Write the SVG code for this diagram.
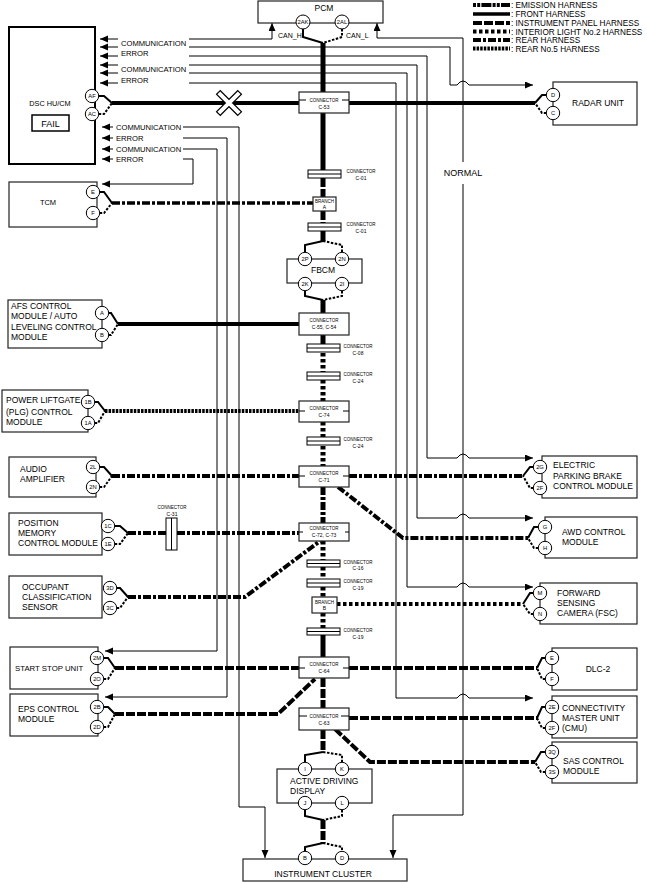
<svg xmlns="http://www.w3.org/2000/svg" width="647" height="883" viewBox="0 0 647 883">
<style>
text{font-family:"Liberation Sans",Arial,sans-serif;fill:#000}
.box{fill:#fff;stroke:#222;stroke-width:1.2}
.cir{fill:#fff;stroke:#000;stroke-width:1}
.cl{font-size:5.8px;text-anchor:middle}
.lb{font-size:8.5px}
.lg{font-size:8.2px}
.lbc{font-size:8.5px;text-anchor:middle}
.sig{font-size:7.6px}
.ct{font-size:4.5px;text-anchor:middle}
.ct2{font-size:5px;text-anchor:middle}
.w{fill:none;stroke:#000;stroke-width:1}
.h{fill:none;stroke:#000;stroke-width:4;stroke-linecap:butt}
.sp{fill:none;stroke:#000;stroke-width:5;stroke-linecap:butt}
.ip{stroke-dasharray:9,2}
.il{stroke-dasharray:3.5,2.5}
.rr{stroke-dasharray:8,2,3,2}
.r5{stroke-dasharray:2.5,1.1}
.em{stroke-dasharray:3,1.2,3,1.2,10,1.2}
.st{fill:none;stroke:#000;stroke-width:2}
.sd{fill:none;stroke:#000;stroke-width:2;stroke-dasharray:2.5,1.5}
.cn{fill:#fff;stroke:#000;stroke-width:1}
</style>
<defs>
<marker id="ar" markerUnits="userSpaceOnUse" markerWidth="9" markerHeight="8" refX="8" refY="3.5" orient="auto-start-reverse">
<path d="M0,0 L8,3.5 L0,7 z" fill="#000"/>
</marker>
</defs>

<g id="legend">
<path class="h em" d="M473,5 H510"/>
<path class="h" d="M473,14 H510" style="stroke-width:3.5"/>
<path class="h ip" d="M473,23 H510"/>
<path class="h il" d="M473,31.5 H510"/>
<path class="h rr" d="M473,40 H510"/>
<path class="h r5" d="M473,48.5 H510"/>
<text class="lg" x="511" y="8">: EMISSION HARNESS</text>
<text class="lg" x="511" y="17">: FRONT HARNESS</text>
<text class="lg" x="511" y="26">: INSTRUMENT PANEL HARNESS</text>
<text class="lg" x="511" y="34.5">: INTERIOR LIGHT No.2 HARNESS</text>
<text class="lg" x="511" y="43">: REAR HARNESS</text>
<text class="lg" x="511" y="51.5">: REAR No.5 HARNESS</text>
</g>

<g id="connectors">
<path class="w" marker-start="url(#ar)" marker-end="url(#ar)" d="M100,39 H272 V23"/>
<path class="w" marker-start="url(#ar)" marker-end="url(#ar)" d="M100,47 H450 V85 H457 Q463,77 469,85 H533"/>
<path class="w" marker-start="url(#ar)" marker-end="url(#ar)" d="M100,56 H427 V458 H457 Q463,450 469,458 H533"/>
<path class="w" marker-start="url(#ar)" marker-end="url(#ar)" d="M100,65 H417 V518 H457 Q463,510 469,518 H533"/>
<path class="w" marker-start="url(#ar)" marker-end="url(#ar)" d="M100,73 H407 V587 H457 Q463,579 469,587 H533"/>
<path class="w" marker-start="url(#ar)" marker-end="url(#ar)" d="M100,83 H396 V698 H457 Q463,690 469,698 H533"/>
<path class="w" marker-start="url(#ar)" d="M377,23 V38 H463 V162"/>
<path class="w" marker-end="url(#ar)" d="M463,184 V815 H393 V858"/>
<path class="w" marker-start="url(#ar)" marker-end="url(#ar)" d="M102,127 H239 V807 H265 V858"/>
<path class="w" marker-start="url(#ar)" marker-end="url(#ar)" d="M102,138 H227 V697 H105"/>
<path class="w" marker-start="url(#ar)" marker-end="url(#ar)" d="M102,149 H217 V651 H105"/>
<path class="w" marker-start="url(#ar)" marker-end="url(#ar)" d="M102,159 H193 V184 H102"/>

<path class="sp" d="M323,43 V170"/>
<path class="sp ip" d="M323,178 V197"/>
<path class="sp ip" d="M323,211 V223"/>
<path class="sp" d="M323,231 V241"/>
<path class="sp" d="M323,300 V313"/>
<path class="sp" d="M323,335 V344"/>
<path class="sp il" d="M323,353 V372"/>
<path class="sp il" d="M323,380 V401"/>
<path class="sp il" d="M323,422 V437"/>
<path class="sp il" d="M323,446 V466"/>
<path class="sp rr" d="M323,487 V523"/>
<path class="sp il" d="M323,541 V560"/>
<path class="sp il" d="M323,567 V579"/>
<path class="sp il" d="M323,587 V597"/>
<path class="sp il" d="M323,613 V628"/>
<path class="sp" d="M323,635 V657"/>
<path class="sp ip" d="M323,678 V708"/>
<path class="sp ip" d="M323,730 V752"/>
<path class="sp ip" d="M323,820 V843"/>

<path class="st" d="M303,29 V37 L323,43"/>
<path class="sd" d="M342,29 V37 L323,43"/>
<path class="st" d="M323,241 L305,245 V252"/>
<path class="sd" d="M323,241 L342,245 V252"/>
<path class="st" d="M305,291 V296 L323,300"/>
<path class="sd" d="M342,291 V296 L323,300"/>
<path class="st" d="M323,752 L305,755 V762"/>
<path class="sd" d="M323,752 L342,755 V762"/>
<path class="st" d="M305,810 V816 L323,820"/>
<path class="sd" d="M342,810 V816 L323,820"/>
<path class="st" d="M323,843 L305,847 V851"/>
<path class="sd" d="M323,843 L342,847 V851"/>

<path class="h" d="M112,103 H299"/>
<path class="h" d="M349,103 H535"/>
<path class="h rr" d="M112,203 H313" style="stroke-width:3.5"/>
<path class="h" d="M118,324 H299"/>
<path class="h r5" d="M105,411 H299"/>
<path class="h rr" d="M112,476 H299"/>
<path class="h rr" d="M349,476 H523"/>
<path class="h rr" d="M338,487 L403,538 H528"/>
<path class="h rr" d="M128,533 H166"/>
<path class="h rr" d="M177,533 H299"/>
<path class="h rr" d="M128,597 H245 L320,541"/>
<path class="h il" d="M337,604 H523"/>
<path class="h ip" d="M115,668 H299"/>
<path class="h ip" d="M349,668 H537"/>
<path class="h ip" d="M115,714 H278 L315,679"/>
<path class="h ip" d="M349,718 H537"/>
<path class="h ip" d="M335,729 L370,762 H535"/>

<path class="st" d="M98.7,96 H104 L112,103"/><path class="sd" d="M98.7,114 H104 L112,103"/>
<path class="st" d="M99.7,192 H104 L112,203"/><path class="sd" d="M99.7,213 H104 L112,203"/>
<path class="st" d="M108.7,313 H111 L118,324"/><path class="sd" d="M108.7,335 H111 L118,324"/>
<path class="st" d="M94.7,402 H98 L105,411"/><path class="sd" d="M94.7,423 H98 L105,411"/>
<path class="st" d="M99.7,467 H104 L112,476"/><path class="sd" d="M99.7,487 H104 L112,476"/>
<path class="st" d="M114.7,526 H120 L128,533"/><path class="sd" d="M114.7,544 H120 L128,533"/>
<path class="st" d="M116.7,588 H120 L128,597"/><path class="sd" d="M116.7,608 H120 L128,597"/>
<path class="st" d="M103.7,658 H108 L115,668"/><path class="sd" d="M103.7,679 H108 L115,668"/>
<path class="st" d="M103.7,707 H108 L115,714"/><path class="sd" d="M103.7,727 H108 L115,714"/>
<path class="st" d="M546.3,95 H542 L535,103"/><path class="sd" d="M546.3,113 H542 L535,103"/>
<path class="st" d="M533.3,467 H530 L523,476"/><path class="sd" d="M533.3,488 H530 L523,476"/>
<path class="st" d="M538.3,527 H534 L528,538"/><path class="sd" d="M538.3,548 H534 L528,538"/>
<path class="st" d="M533.3,593 H530 L523,604"/><path class="sd" d="M533.3,614 H530 L523,604"/>
<path class="st" d="M545.3,658 H542 L537,668"/><path class="sd" d="M545.3,679 H542 L537,668"/>
<path class="st" d="M545.3,707 H542 L537,718"/><path class="sd" d="M545.3,728 H542 L537,718"/>
<path class="st" d="M545.3,752 H541 L535,762"/><path class="sd" d="M545.3,772 H541 L535,762"/>

<g id="xmark">
<path d="M218,92 L240,114 M218,114 L240,92" stroke="#000" stroke-width="6.5" fill="none"/>
<path d="M218.8,92.8 L239.2,113.2 M218.8,113.2 L239.2,92.8" stroke="#fff" stroke-width="4" fill="none"/>
</g>
</g>

<g id="signal-labels">
<rect x="118" y="35" width="71" height="52" fill="#fff"/>
<rect x="113" y="122" width="70" height="42" fill="#fff"/>
<text class="sig" x="121" y="45.5">COMMUNICATION</text>
<text class="sig" x="121" y="55.5">ERROR</text>
<text class="sig" x="121" y="72">COMMUNICATION</text>
<text class="sig" x="121" y="83">ERROR</text>
<text class="sig" x="116" y="130">COMMUNICATION</text>
<text class="sig" x="116" y="140.5">ERROR</text>
<text class="sig" x="116" y="151.5">COMMUNICATION</text>
<text class="sig" x="116" y="162">ERROR</text>
<text style="font-size:7px" x="278" y="37.5">CAN_H</text>
<text style="font-size:7px" x="346" y="37.5">CAN_L</text>
<rect x="440" y="163" width="46" height="20" fill="#fff"/>
<text style="font-size:9px;text-anchor:middle" x="463" y="176">NORMAL</text>
</g>

<g id="pcm">
<rect class="box" x="258" y="1" width="125" height="22"/>
<text class="lbc" x="324" y="10.5">PCM</text>
<circle class="cir" cx="303" cy="22" r="7"/><text class="cl" x="303" y="24">2AK</text>
<circle class="cir" cx="342" cy="22" r="7"/><text class="cl" x="342" y="24">2AL</text>
</g>

<g id="dsc">
<rect x="9" y="27" width="86" height="137" fill="#fff" stroke="#000" stroke-width="2"/>
<text class="lbc" style="font-size:7.3px" x="50" y="105.5">DSC HU/CM</text>
<rect x="32" y="115" width="37" height="16" fill="#fff" stroke="#000" stroke-width="1.5"/>
<text style="font-size:9px;text-anchor:middle" x="50.5" y="126.5">FAIL</text>
<circle class="cir" cx="92" cy="96" r="6.7"/><text class="cl" x="92" y="98">AF</text>
<circle class="cir" cx="92" cy="114" r="6.7"/><text class="cl" x="92" y="116">AC</text>
</g>

<g id="tcm">
<rect class="box" x="9" y="182" width="88" height="45"/>
<text class="lbc" style="font-size:7.5px" x="48" y="205">TCM</text>
<circle class="cir" cx="93" cy="192" r="6.7"/><text class="cl" x="93" y="194">E</text>
<circle class="cir" cx="93" cy="213" r="6.7"/><text class="cl" x="93" y="215">F</text>
</g>

<g id="afs">
<rect class="box" x="8" y="300" width="94" height="48"/>
<text class="lb" x="11" y="309">AFS CONTROL</text>
<text class="lb" x="11" y="319">MODULE / AUTO</text>
<text class="lb" x="11" y="329.5">LEVELING CONTROL</text>
<text class="lb" x="11" y="340">MODULE</text>
<circle class="cir" cx="102" cy="313" r="6.7"/><text class="cl" x="102" y="315">A</text>
<circle class="cir" cx="102" cy="335" r="6.7"/><text class="cl" x="102" y="337">B</text>
</g>

<g id="plg">
<rect class="box" x="2" y="390" width="86" height="42"/>
<text class="lb" x="6" y="403">POWER LIFTGATE</text>
<text class="lb" x="6" y="414.5">(PLG) CONTROL</text>
<text class="lb" x="6" y="424.5">MODULE</text>
<circle class="cir" cx="88" cy="402" r="6.7"/><text class="cl" x="88" y="404">1B</text>
<circle class="cir" cx="88" cy="423" r="6.7"/><text class="cl" x="88" y="425">1A</text>
</g>

<g id="audio">
<rect class="box" x="9" y="457" width="87" height="40"/>
<text class="lb" x="20" y="472">AUDIO</text>
<text class="lb" x="20" y="482">AMPLIFIER</text>
<circle class="cir" cx="93" cy="467" r="6.7"/><text class="cl" x="93" y="469">2L</text>
<circle class="cir" cx="93" cy="487" r="6.7"/><text class="cl" x="93" y="489">2N</text>
</g>

<g id="posmem">
<rect class="box" x="9" y="513" width="93" height="42"/>
<text class="lb" x="18" y="526">POSITION</text>
<text class="lb" x="18" y="536">MEMORY</text>
<text class="lb" x="18" y="546">CONTROL MODULE</text>
<circle class="cir" cx="108" cy="526" r="6.7"/><text class="cl" x="108" y="528">1C</text>
<circle class="cir" cx="108" cy="544" r="6.7"/><text class="cl" x="108" y="546">1E</text>
</g>

<g id="occupant">
<rect class="box" x="9" y="576" width="93" height="42"/>
<text class="lb" x="22" y="590">OCCUPANT</text>
<text class="lb" x="22" y="600">CLASSIFICATION</text>
<text class="lb" x="22" y="610">SENSOR</text>
<circle class="cir" cx="110" cy="588" r="6.7"/><text class="cl" x="110" y="590">3D</text>
<circle class="cir" cx="110" cy="608" r="6.7"/><text class="cl" x="110" y="610">3C</text>
</g>

<g id="startstop">
<rect class="box" x="10" y="647" width="88" height="42"/>
<text class="lb" style="font-size:7.8px" x="15" y="671">START STOP UNIT</text>
<circle class="cir" cx="97" cy="658" r="6.7"/><text class="cl" x="97" y="660">2M</text>
<circle class="cir" cx="97" cy="679" r="6.7"/><text class="cl" x="97" y="681">2O</text>
</g>

<g id="eps">
<rect class="box" x="10" y="694" width="88" height="42"/>
<text class="lb" x="18" y="712">EPS CONTROL</text>
<text class="lb" x="18" y="722">MODULE</text>
<circle class="cir" cx="97" cy="707" r="6.7"/><text class="cl" x="97" y="709">2B</text>
<circle class="cir" cx="97" cy="727" r="6.7"/><text class="cl" x="97" y="729">2D</text>
</g>

<g id="radar">
<rect class="box" x="553" y="82" width="84" height="43"/>
<text class="lbc" x="598" y="106">RADAR UNIT</text>
<circle class="cir" cx="553" cy="95" r="6.7"/><text class="cl" x="553" y="97">D</text>
<circle class="cir" cx="553" cy="113" r="6.7"/><text class="cl" x="553" y="115">C</text>
</g>

<g id="epb">
<rect class="box" x="542" y="456" width="95" height="42"/>
<text class="lb" x="553" y="468">ELECTRIC</text>
<text class="lb" x="553" y="478.5">PARKING BRAKE</text>
<text class="lb" x="553" y="488.5">CONTROL MODULE</text>
<circle class="cir" cx="540" cy="467" r="6.7"/><text class="cl" x="540" y="469">2G</text>
<circle class="cir" cx="540" cy="488" r="6.7"/><text class="cl" x="540" y="490">2F</text>
</g>

<g id="awd">
<rect class="box" x="545" y="517" width="92" height="41"/>
<text class="lb" x="562" y="535">AWD CONTROL</text>
<text class="lb" x="562" y="545">MODULE</text>
<circle class="cir" cx="545" cy="527" r="6.7"/><text class="cl" x="545" y="529">G</text>
<circle class="cir" cx="545" cy="548" r="6.7"/><text class="cl" x="545" y="550">H</text>
</g>

<g id="fsc">
<rect class="box" x="540" y="583" width="97" height="41"/>
<text class="lb" x="557" y="596">FORWARD</text>
<text class="lb" x="557" y="606">SENSING</text>
<text class="lb" x="557" y="616">CAMERA (FSC)</text>
<circle class="cir" cx="540" cy="593" r="6.7"/><text class="cl" x="540" y="595">M</text>
<circle class="cir" cx="540" cy="614" r="6.7"/><text class="cl" x="540" y="616">N</text>
</g>

<g id="dlc">
<rect class="box" x="552" y="648" width="85" height="42"/>
<text class="lbc" x="598" y="672">DLC-2</text>
<circle class="cir" cx="552" cy="658" r="6.7"/><text class="cl" x="552" y="660">E</text>
<circle class="cir" cx="552" cy="679" r="6.7"/><text class="cl" x="552" y="681">F</text>
</g>

<g id="cmu">
<rect class="box" x="552" y="696" width="85" height="42"/>
<text class="lb" x="562" y="711">CONNECTIVITY</text>
<text class="lb" x="562" y="721">MASTER UNIT</text>
<text class="lb" x="562" y="731">(CMU)</text>
<circle class="cir" cx="552" cy="707" r="6.7"/><text class="cl" x="552" y="709">2E</text>
<circle class="cir" cx="552" cy="728" r="6.7"/><text class="cl" x="552" y="730">2F</text>
</g>

<g id="sas">
<rect class="box" x="552" y="742" width="85" height="41"/>
<text class="lb" x="563" y="764">SAS CONTROL</text>
<text class="lb" x="563" y="774">MODULE</text>
<circle class="cir" cx="552" cy="752" r="6.7"/><text class="cl" x="552" y="754">3Q</text>
<circle class="cir" cx="552" cy="772" r="6.7"/><text class="cl" x="552" y="774">3S</text>
</g>

<g id="fbcm">
<rect class="box" x="287" y="259" width="75" height="24"/>
<text class="lbc" x="323" y="272.5">FBCM</text>
<circle class="cir" cx="305" cy="259" r="6.7"/><text class="cl" x="305" y="261">2P</text>
<circle class="cir" cx="342" cy="259" r="6.7"/><text class="cl" x="342" y="261">2N</text>
<circle class="cir" cx="305" cy="284" r="6.7"/><text class="cl" x="305" y="286">2K</text>
<circle class="cir" cx="342" cy="284" r="6.7"/><text class="cl" x="342" y="286">2I</text>
</g>

<g id="add">
<rect class="box" x="277" y="769" width="95" height="34"/>
<text class="lb" x="290" y="784">ACTIVE DRIVING</text>
<text class="lb" x="290" y="794">DISPLAY</text>
<circle class="cir" cx="305" cy="769" r="6.7"/><text class="cl" x="305" y="771">I</text>
<circle class="cir" cx="342" cy="769" r="6.7"/><text class="cl" x="342" y="771">K</text>
<circle class="cir" cx="305" cy="803" r="6.7"/><text class="cl" x="305" y="805">J</text>
<circle class="cir" cx="342" cy="803" r="6.7"/><text class="cl" x="342" y="805">L</text>
</g>

<g id="ic">
<rect class="box" x="243" y="859" width="164" height="22"/>
<text class="lbc" x="323" y="877">INSTRUMENT CLUSTER</text>
<circle class="cir" cx="305" cy="858" r="6.7"/><text class="cl" x="305" y="860">B</text>
<circle class="cir" cx="342" cy="858" r="6.7"/><text class="cl" x="342" y="860">D</text>
</g>

<g id="c53">
<rect class="box" x="299" y="92" width="50" height="21"/>
<path class="w" d="M299,100 H306 M342,100 H349"/>
<text class="ct" x="324" y="101.5">CONNECTOR</text><text class="ct2" x="324" y="109">C-53</text>
</g>
<g id="c01a">
<rect class="cn" x="308" y="170" width="33" height="8"/><path class="w" d="M308,174 H341"/>
<text class="ct" x="361" y="172.5">CONNECTOR</text><text class="ct2" x="361" y="180">C-01</text>
</g>
<g id="brancha">
<rect class="box" x="313" y="197" width="23" height="14"/>
<text class="ct" x="324.5" y="203">BRANCH</text><text class="ct2" x="324.5" y="209">A</text>
</g>
<g id="c01b">
<rect class="cn" x="308" y="223" width="33" height="8"/><path class="w" d="M308,227 H341"/>
<text class="ct" x="361" y="225.5">CONNECTOR</text><text class="ct2" x="361" y="233">C-01</text>
</g>
<g id="c55">
<rect class="box" x="299" y="313" width="50" height="22"/>
<text class="ct" x="324" y="322">CONNECTOR</text><text class="ct2" x="324" y="329">C-55, C-54</text>
</g>
<g id="c08">
<rect class="cn" x="307" y="344" width="33" height="8"/><path class="w" d="M307,348 H340"/>
<text class="ct" x="358" y="347.5">CONNECTOR</text><text class="ct2" x="358" y="355">C-08</text>
</g>
<g id="c24a">
<rect class="cn" x="307" y="372" width="33" height="8"/><path class="w" d="M307,376 H340"/>
<text class="ct" x="358" y="375.5">CONNECTOR</text><text class="ct2" x="358" y="383">C-24</text>
</g>
<g id="c74">
<rect class="box" x="299" y="401" width="50" height="21"/>
<path class="w" d="M299,411 H305 M343,411 H349"/>
<text class="ct" x="324" y="409.5">CONNECTOR</text><text class="ct2" x="324" y="417">C-74</text>
</g>
<g id="c24b">
<rect class="cn" x="307" y="437" width="33" height="8"/><path class="w" d="M307,441 H340"/>
<text class="ct" x="358" y="440.5">CONNECTOR</text><text class="ct2" x="358" y="448">C-24</text>
</g>
<g id="c71">
<rect class="box" x="299" y="466" width="50" height="21"/>
<path class="w" d="M299,476 H305 M343,476 H349"/>
<text class="ct" x="324" y="474.5">CONNECTOR</text><text class="ct2" x="324" y="482">C-71</text>
</g>
<g id="c72">
<rect class="box" x="299" y="523" width="50" height="18"/>
<path class="w" d="M299,532 H303 M345,532 H349"/>
<text class="ct" x="324" y="529.5">CONNECTOR</text><text class="ct2" x="324" y="537">C-72, C-73</text>
</g>
<g id="c31">
<rect class="cn" x="166" y="518" width="11" height="32"/><path class="w" d="M171.5,518 V550"/>
<text class="ct" x="172" y="508.5">CONNECTOR</text><text class="ct2" x="172" y="515.5">C-31</text>
</g>
<g id="c16">
<rect class="cn" x="307" y="560" width="33" height="7"/><path class="w" d="M307,563.5 H340"/>
<text class="ct" x="358" y="563.5">CONNECTOR</text><text class="ct2" x="358" y="570">C-16</text>
</g>
<g id="c19a">
<rect class="cn" x="307" y="579" width="33" height="8"/><path class="w" d="M307,583 H340"/>
<text class="ct" x="358" y="582.5">CONNECTOR</text><text class="ct2" x="358" y="590">C-19</text>
</g>
<g id="branchb">
<rect class="box" x="312" y="597" width="25" height="16"/>
<text class="ct" x="324.5" y="603.5">BRANCH</text><text class="ct2" x="324.5" y="609.5">B</text>
</g>
<g id="c19b">
<rect class="cn" x="307" y="628" width="33" height="7"/><path class="w" d="M307,631.5 H340"/>
<text class="ct" x="358" y="631.5">CONNECTOR</text><text class="ct2" x="358" y="639">C-19</text>
</g>
<g id="c64">
<rect class="box" x="299" y="657" width="50" height="21"/>
<path class="w" d="M299,668 H305 M343,668 H349"/>
<text class="ct" x="324" y="665.5">CONNECTOR</text><text class="ct2" x="324" y="673">C-64</text>
</g>
<g id="c63">
<rect class="box" x="299" y="708" width="50" height="22"/>
<path class="w" d="M299,716 H307 M341,716 H349"/>
<text class="ct" x="324" y="717.5">CONNECTOR</text><text class="ct2" x="324" y="725">C-63</text>
</g>
</svg>
